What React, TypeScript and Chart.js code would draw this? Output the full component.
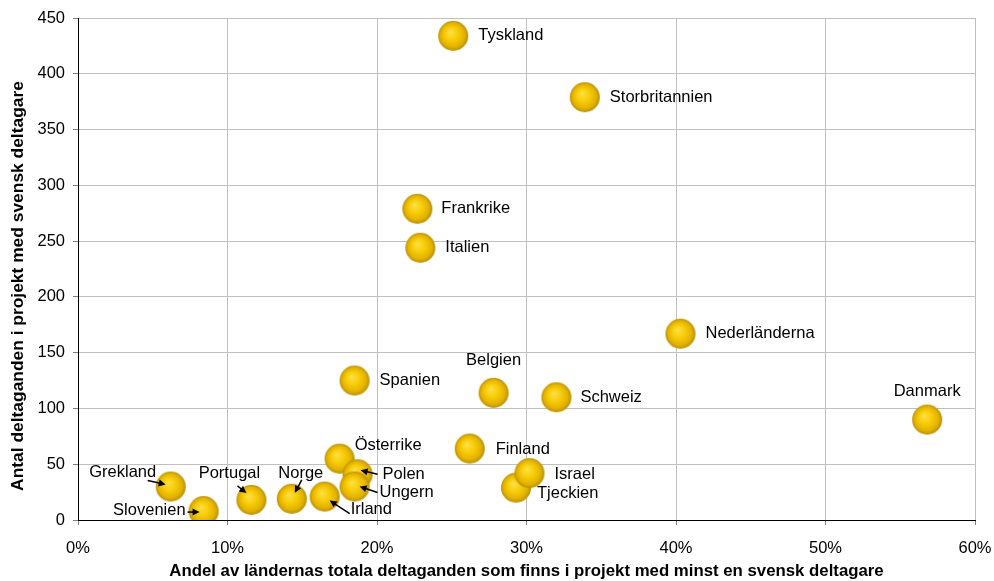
import { useEffect, useRef } from 'react';
import { Chart, registerables } from 'chart.js';

Chart.register(...registerables);

// ---- data ----
const countries = [
  'Tyskland', 'Storbritannien', 'Frankrike', 'Italien', 'Nederländerna', 'Spanien',
  'Belgien', 'Schweiz', 'Danmark', 'Finland', 'Österrike', 'Polen', 'Ungern',
  'Irland', 'Norge', 'Portugal', 'Grekland', 'Slovenien', 'Tjeckien', 'Israel',
];
const shares = [
  25.1, 33.9, 22.7, 22.9, 40.3, 18.5,
  27.8, 32.0, 56.8, 26.2, 17.5, 18.7, 18.5,
  16.5, 14.3, 11.6, 6.2, 8.4, 29.3, 30.2,
];
const participants = [
  434, 379, 279, 244, 167, 125,
  114, 110, 90, 64, 55, 41, 30,
  21, 19, 18, 30, 8, 29, 42,
];
const xTickValues = [0, 10, 20, 30, 40, 50, 60];
const yTickValues = [0, 50, 100, 150, 200, 250, 300, 350, 400, 450];
const xTitle = 'Andel av ländernas totala deltaganden som finns i projekt med minst en svensk deltagare';
const yTitle = 'Antal deltaganden i projekt med svensk deltagare';

// ---- label placement (pixel offsets relative to the point) ----
type Place = { dx: number; dy: number; align: CanvasTextAlign; arrow?: [number, number, number, number] };
const placement: Record<string, Place> = {
  Tyskland: { dx: 25, dy: 0, align: 'left' },
  Storbritannien: { dx: 25, dy: 0, align: 'left' },
  Frankrike: { dx: 24, dy: 0, align: 'left' },
  Italien: { dx: 25, dy: 0, align: 'left' },
  'Nederländerna': { dx: 25, dy: 0, align: 'left' },
  Spanien: { dx: 25, dy: 0, align: 'left' },
  Belgien: { dx: 0, dy: -32, align: 'center' },
  Schweiz: { dx: 24, dy: 0, align: 'left' },
  Danmark: { dx: 0, dy: -28, align: 'center' },
  Finland: { dx: 26, dy: 1, align: 'left' },
  'Österrike': { dx: 15, dy: -13, align: 'left' },
  Polen: { dx: 25, dy: 0, align: 'left', arrow: [20, 0, 3, -4] },
  Ungern: { dx: 25, dy: 6, align: 'left', arrow: [23, 6, 5, 0] },
  Irland: { dx: 26, dy: 13, align: 'left', arrow: [25, 17, 5, 4] },
  Norge: { dx: 9, dy: -25, align: 'center', arrow: [10, -19, 3, -6] },
  Portugal: { dx: -22, dy: -26, align: 'center', arrow: [-14, -14, -5, -7] },
  Grekland: { dx: -48, dy: -14, align: 'center', arrow: [-23, -6, -5, -2] },
  Slovenien: { dx: -18, dy: -1, align: 'right', arrow: [-16, 1, -4, 1] },
  Tjeckien: { dx: 21, dy: 6, align: 'left' },
  Israel: { dx: 25, dy: 1, align: 'left' },
};

const FONT = '"Liberation Sans", Arial, sans-serif';

function makeSphere(): HTMLCanvasElement {
  const size = 32;
  const c = document.createElement('canvas');
  c.width = size;
  c.height = size;
  const g = c.getContext('2d')!;
  const cx = size / 2, cy = size / 2, r = 15;
  const grad = g.createRadialGradient(cx - 3, cy - 4, 0, cx, cy, r);
  grad.addColorStop(0, '#FFE14A');
  grad.addColorStop(0.45, '#F7CC06');
  grad.addColorStop(0.8, '#E3B200');
  grad.addColorStop(1, '#B78F00');
  g.beginPath();
  g.arc(cx, cy, r, 0, Math.PI * 2);
  g.fillStyle = grad;
  g.fill();
  return c;
}

function drawArrow(ctx: CanvasRenderingContext2D, x1: number, y1: number, x2: number, y2: number) {
  const ang = Math.atan2(y2 - y1, x2 - x1);
  const head = 7;
  const hw = 3.5;
  ctx.beginPath();
  ctx.moveTo(x1, y1);
  ctx.lineTo(x2 - Math.cos(ang) * head * 0.8, y2 - Math.sin(ang) * head * 0.8);
  ctx.lineWidth = 1.5;
  ctx.strokeStyle = '#000';
  ctx.stroke();
  ctx.beginPath();
  ctx.moveTo(x2, y2);
  ctx.lineTo(x2 - Math.cos(ang) * head + Math.sin(ang) * hw, y2 - Math.sin(ang) * head - Math.cos(ang) * hw);
  ctx.lineTo(x2 - Math.cos(ang) * head - Math.sin(ang) * hw, y2 - Math.sin(ang) * head + Math.cos(ang) * hw);
  ctx.closePath();
  ctx.fillStyle = '#000';
  ctx.fill();
}

const labelPlugin = {
  id: 'countryLabels',
  afterDatasetsDraw(chart: any) {
    const ctx: CanvasRenderingContext2D = chart.ctx;
    const meta = chart.getDatasetMeta(0);
    ctx.save();
    ctx.font = `16.5px ${FONT}`;
    ctx.textBaseline = 'middle';
    meta.data.forEach((el: any, i: number) => {
      const p = placement[countries[i]];
      if (!p) return;
      if (p.arrow) {
        const [a, b, c, d] = p.arrow;
        drawArrow(ctx, el.x + a, el.y + b, el.x + c, el.y + d);
      }
      ctx.fillStyle = '#000';
      ctx.textAlign = p.align;
      ctx.fillText(countries[i], el.x + p.dx, el.y + p.dy);
    });
    ctx.restore();
  },
};

// y-axis title, drawn slightly below the axis centre as in the original
const yTitlePlugin = {
  id: 'yTitle',
  afterDraw(chart: any) {
    const ctx: CanvasRenderingContext2D = chart.ctx;
    const area = chart.chartArea;
    ctx.save();
    ctx.translate(18, (area.top + area.bottom) / 2 + 17);
    ctx.rotate(-Math.PI / 2);
    ctx.font = `bold 17.4px ${FONT}`;
    ctx.fillStyle = '#000';
    ctx.textAlign = 'center';
    ctx.textBaseline = 'middle';
    ctx.fillText(yTitle, 0, 0);
    ctx.restore();
  },
};

export default function App() {
  const ref = useRef<HTMLCanvasElement | null>(null);
  useEffect(() => {
    if (!ref.current) return;
    const sphere = makeSphere();
    const points = shares.map((s, i) => ({ x: s, y: participants[i] }));
    const chart = new Chart(ref.current, {
      type: 'scatter',
      data: {
        datasets: [
          {
            label: 'Länder',
            data: points,
            pointStyle: sphere as any,
            pointRadius: 15,
          },
        ],
      },
      plugins: [labelPlugin, yTitlePlugin],
      options: {
        animation: false,
        responsive: false,
        layout: { padding: { top: 18, right: 19, left: 0, bottom: 0 } },
        plugins: {
          legend: { display: false },
          tooltip: { enabled: false },
        },
        scales: {
          x: {
            type: 'linear',
            min: 0,
            max: 60,
            afterBuildTicks: (s: any) => {
              s.ticks = xTickValues.map((v) => ({ value: v }));
            },
            afterFit: (s: any) => {
              s.height = 61;
              s.paddingLeft = 0;
              s.paddingRight = 0;
            },
            ticks: {
              callback: (v: any) => `${v}%`,
              color: '#000',
              font: { family: FONT, size: 16.5 },
              padding: 14,
              maxRotation: 0,
            },
            grid: { color: '#c0c0c0', tickColor: '#808080', tickLength: 5 },
            border: { color: '#000', width: 1 },
            title: {
              display: true,
              text: xTitle,
              color: '#000',
              font: { family: FONT, size: 16.8, weight: 'bold' },
              padding: { top: 0, bottom: 0 },
            },
          },
          y: {
            type: 'linear',
            min: 0,
            max: 450,
            afterBuildTicks: (s: any) => {
              s.ticks = yTickValues.map((v) => ({ value: v }));
            },
            afterFit: (s: any) => {
              s.width = 78;
              s.paddingTop = 0;
              s.paddingBottom = 0;
            },
            ticks: {
              color: '#000',
              font: { family: FONT, size: 16.5 },
              padding: 8,
            },
            grid: { color: '#c0c0c0', tickColor: '#808080', tickLength: 5 },
            border: { color: '#000', width: 1 },
            title: { display: false },
          },
        },
      },
    });
    return () => chart.destroy();
  }, []);
  return (
    <div style={{ position: 'absolute', left: 0, top: 0, width: 994, height: 581, background: '#fff' }}>
      <canvas ref={ref} width={994} height={581} />
    </div>
  );
}
